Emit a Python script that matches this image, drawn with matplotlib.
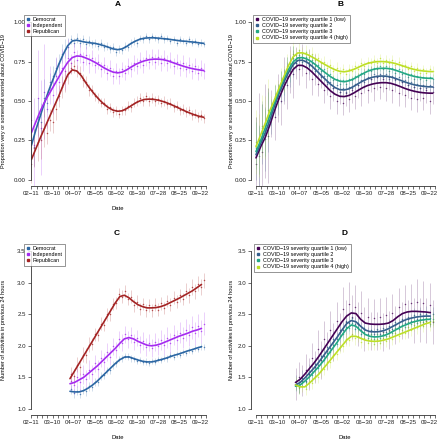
import numpy as np
import matplotlib
matplotlib.use('Agg')
import matplotlib.pyplot as plt
from matplotlib.lines import Line2D

plt.rcParams['font.family'] = ['Liberation Sans', 'DejaVu Sans']

# ---- data (days since 02-11) ----
date_labels = ['02\u221211', '03\u221210', '04\u221207', '05\u221205', '06\u221202',
               '06\u221230', '07\u221228', '08\u221225', '09\u221222']
month_starts = [19, 50, 80, 111, 141, 172, 203]   # Mar 1 .. Sep 1

party = ['Democrat', 'Independent', 'Republican']
party_col = ['#2B66A3', '#A52AF0', '#A32323']
quart = ['COVID\u221219 severity quartile 1 (low)', 'COVID\u221219 severity quartile 2',
         'COVID\u221219 severity quartile 3', 'COVID\u221219 severity quartile 4 (high)']
quart_col = [plt.cm.viridis(v) for v in (0.0, 0.3, 0.6, 0.9)]

# panel A: worry by party, obs every 4 days from day 0, trend every 6 days from day 0
A_dem_obs = [0.25, 0.21, 0.40, 0.37, 0.52, 0.49, 0.62, 0.66, 0.71, 0.74, 0.80, 0.83, 0.84, 0.89, 0.87, 0.90,
             0.87, 0.89, 0.86, 0.88, 0.86, 0.87, 0.85, 0.87, 0.84, 0.85, 0.83, 0.84, 0.81, 0.83, 0.82, 0.85,
             0.84, 0.87, 0.88, 0.87, 0.90, 0.89, 0.91, 0.89, 0.91, 0.90, 0.89, 0.91, 0.89, 0.90, 0.88, 0.89,
             0.87, 0.89, 0.88, 0.87, 0.89, 0.87, 0.88, 0.86, 0.87, 0.86]
A_ind_obs = [0.38, 0.22, 0.52, 0.33, 0.56, 0.45, 0.60, 0.54, 0.66, 0.62, 0.71, 0.69, 0.77, 0.74, 0.81, 0.76,
             0.80, 0.75, 0.79, 0.74, 0.77, 0.73, 0.75, 0.70, 0.73, 0.68, 0.71, 0.66, 0.69, 0.66, 0.70, 0.68,
             0.72, 0.70, 0.74, 0.72, 0.76, 0.73, 0.77, 0.75, 0.78, 0.75, 0.78, 0.74, 0.77, 0.74, 0.76, 0.72,
             0.75, 0.71, 0.74, 0.70, 0.73, 0.69, 0.72, 0.68, 0.71, 0.69]
A_rep_obs = [0.10, 0.20, 0.24, 0.25, 0.33, 0.30, 0.38, 0.37, 0.45, 0.53, 0.59, 0.63, 0.68, 0.71, 0.72, 0.69,
             0.68, 0.63, 0.62, 0.57, 0.57, 0.53, 0.52, 0.49, 0.49, 0.45, 0.46, 0.43, 0.44, 0.42, 0.44, 0.44,
             0.47, 0.46, 0.49, 0.50, 0.52, 0.50, 0.53, 0.50, 0.52, 0.50, 0.51, 0.49, 0.50, 0.48, 0.49, 0.46,
             0.47, 0.44, 0.45, 0.43, 0.44, 0.41, 0.42, 0.40, 0.41, 0.39]
A_dem_trend = [0.22, 0.32, 0.41, 0.50, 0.58, 0.655, 0.73, 0.795, 0.85, 0.88, 0.885, 0.878, 0.872, 0.868,
               0.865, 0.858, 0.85, 0.84, 0.83, 0.825, 0.83, 0.845, 0.865, 0.88, 0.892, 0.898, 0.90, 0.90,
               0.898, 0.895, 0.892, 0.888, 0.884, 0.88, 0.878, 0.875, 0.872, 0.868, 0.865]
A_ind_trend = [0.30, 0.37, 0.44, 0.50, 0.55, 0.60, 0.65, 0.70, 0.745, 0.775, 0.785, 0.783, 0.772, 0.76,
               0.745, 0.728, 0.71, 0.695, 0.683, 0.678, 0.683, 0.697, 0.715, 0.732, 0.745, 0.755, 0.762,
               0.765, 0.765, 0.762, 0.755, 0.745, 0.735, 0.725, 0.716, 0.708, 0.702, 0.697, 0.693]
A_rep_trend = [0.13, 0.20, 0.27, 0.335, 0.40, 0.465, 0.53, 0.60, 0.665, 0.697, 0.69, 0.66, 0.615, 0.575,
               0.54, 0.507, 0.48, 0.458, 0.442, 0.435, 0.438, 0.452, 0.47, 0.488, 0.502, 0.51, 0.512, 0.51,
               0.505, 0.497, 0.487, 0.475, 0.462, 0.448, 0.435, 0.423, 0.412, 0.403, 0.397]
A_err = [[0.12, 0.06, 0.03, 0.025, 0.025, 0.02, 0.02, 0.02],
         [0.30, 0.12, 0.06, 0.05, 0.05, 0.05, 0.05, 0.05],
         [0.12, 0.07, 0.04, 0.03, 0.03, 0.03, 0.03, 0.03]]

# panel B: worry by severity quartile
B_q1_obs = [0.10, 0.25, 0.18, 0.31, 0.28, 0.42, 0.40, 0.52, 0.50, 0.63, 0.60, 0.70, 0.67, 0.74, 0.70, 0.76,
            0.68, 0.73, 0.64, 0.70, 0.61, 0.66, 0.57, 0.62, 0.53, 0.58, 0.50, 0.56, 0.49, 0.55, 0.51, 0.57,
            0.53, 0.60, 0.55, 0.63, 0.57, 0.64, 0.58, 0.65, 0.59, 0.64, 0.58, 0.65, 0.57, 0.64, 0.55, 0.62,
            0.54, 0.60, 0.52, 0.59, 0.51, 0.58, 0.52, 0.57, 0.50, 0.56]
B_q2_obs = [0.20, 0.15, 0.30, 0.26, 0.38, 0.39, 0.50, 0.51, 0.59, 0.60, 0.68, 0.69, 0.75, 0.74, 0.77, 0.75,
            0.76, 0.72, 0.74, 0.69, 0.70, 0.65, 0.66, 0.61, 0.62, 0.58, 0.60, 0.56, 0.58, 0.56, 0.59, 0.58,
            0.61, 0.60, 0.63, 0.62, 0.65, 0.64, 0.67, 0.65, 0.67, 0.65, 0.67, 0.64, 0.66, 0.63, 0.65, 0.62,
            0.63, 0.60, 0.62, 0.59, 0.61, 0.58, 0.60, 0.58, 0.60, 0.59]
B_q3_obs = [0.22, 0.19, 0.33, 0.30, 0.41, 0.43, 0.52, 0.53, 0.61, 0.62, 0.70, 0.70, 0.77, 0.76, 0.79, 0.77,
            0.78, 0.75, 0.76, 0.72, 0.73, 0.69, 0.70, 0.66, 0.67, 0.63, 0.64, 0.61, 0.63, 0.61, 0.64, 0.63,
            0.66, 0.65, 0.68, 0.67, 0.70, 0.69, 0.71, 0.70, 0.72, 0.70, 0.72, 0.69, 0.71, 0.68, 0.70, 0.67,
            0.68, 0.65, 0.67, 0.64, 0.66, 0.64, 0.65, 0.63, 0.65, 0.64]
B_q4_obs = [0.24, 0.22, 0.34, 0.33, 0.44, 0.45, 0.53, 0.55, 0.63, 0.64, 0.72, 0.74, 0.80, 0.79, 0.82, 0.80,
            0.81, 0.78, 0.80, 0.76, 0.77, 0.74, 0.75, 0.71, 0.73, 0.69, 0.71, 0.68, 0.70, 0.67, 0.70, 0.69,
            0.72, 0.70, 0.74, 0.72, 0.75, 0.74, 0.76, 0.74, 0.77, 0.74, 0.76, 0.74, 0.76, 0.73, 0.75, 0.72,
            0.73, 0.70, 0.72, 0.69, 0.71, 0.68, 0.70, 0.68, 0.70, 0.69]
B_q1_trend = [0.14, 0.21, 0.27, 0.35, 0.44, 0.52, 0.59, 0.65, 0.70, 0.726, 0.725, 0.71, 0.685, 0.655, 0.625,
              0.595, 0.565, 0.543, 0.53, 0.528, 0.535, 0.55, 0.568, 0.585, 0.598, 0.607, 0.613, 0.616, 0.616,
              0.612, 0.603, 0.592, 0.58, 0.57, 0.562, 0.556, 0.552, 0.55, 0.549]
B_q2_trend = [0.16, 0.23, 0.30, 0.38, 0.47, 0.55, 0.62, 0.68, 0.73, 0.757, 0.758, 0.745, 0.722, 0.693, 0.663,
              0.635, 0.607, 0.585, 0.572, 0.57, 0.577, 0.592, 0.61, 0.627, 0.64, 0.65, 0.656, 0.658, 0.657,
              0.652, 0.643, 0.632, 0.621, 0.611, 0.603, 0.597, 0.593, 0.59, 0.589]
B_q3_trend = [0.18, 0.25, 0.33, 0.41, 0.49, 0.57, 0.64, 0.70, 0.748, 0.773, 0.775, 0.765, 0.748, 0.725, 0.70,
              0.677, 0.655, 0.637, 0.626, 0.622, 0.628, 0.64, 0.657, 0.673, 0.688, 0.698, 0.705, 0.707, 0.707,
              0.703, 0.695, 0.685, 0.674, 0.664, 0.656, 0.65, 0.646, 0.644, 0.643]
B_q4_trend = [0.21, 0.285, 0.36, 0.44, 0.51, 0.585, 0.655, 0.725, 0.78, 0.804, 0.805, 0.795, 0.78, 0.763,
              0.745, 0.728, 0.712, 0.698, 0.688, 0.685, 0.69, 0.70, 0.713, 0.727, 0.738, 0.745, 0.749, 0.75,
              0.748, 0.744, 0.737, 0.728, 0.718, 0.708, 0.70, 0.694, 0.69, 0.687, 0.686]
B_err = [[0.30, 0.15, 0.10, 0.08, 0.08, 0.08, 0.08, 0.08],
         [0.20, 0.10, 0.05, 0.04, 0.04, 0.035, 0.035, 0.035],
         [0.15, 0.08, 0.04, 0.035, 0.03, 0.03, 0.03, 0.03],
         [0.20, 0.08, 0.045, 0.035, 0.035, 0.03, 0.03, 0.03]]

# panel C: activities by party, obs every 4 days from day 52, trend every 6 days from day 51
C_dem_obs = [1.31, 1.25, 1.29, 1.24, 1.30, 1.28, 1.36, 1.35, 1.43, 1.43, 1.52, 1.53, 1.61, 1.62, 1.70,
             1.72, 1.79, 1.80, 1.84, 1.83, 1.80, 1.79, 1.76, 1.77, 1.74, 1.75, 1.73, 1.76, 1.75, 1.79,
             1.77, 1.81, 1.80, 1.85, 1.83, 1.87, 1.86, 1.90, 1.89, 1.93, 1.92, 1.96, 1.95, 1.99, 1.98]
C_ind_obs = [1.44, 1.38, 1.50, 1.42, 1.55, 1.47, 1.62, 1.55, 1.72, 1.63, 1.80, 1.74, 1.90, 1.83, 1.99,
             1.93, 2.10, 2.05, 2.18, 2.10, 2.17, 2.06, 2.12, 2.02, 2.08, 1.98, 2.05, 1.96, 2.06, 1.99,
             2.09, 2.02, 2.13, 2.05, 2.17, 2.09, 2.21, 2.13, 2.25, 2.17, 2.29, 2.20, 2.32, 2.23, 2.35]
C_rep_obs = [1.55, 1.52, 1.70, 1.66, 1.86, 1.85, 2.02, 2.03, 2.18, 2.17, 2.35, 2.33, 2.50, 2.50, 2.66,
             2.68, 2.82, 2.78, 2.86, 2.74, 2.78, 2.64, 2.70, 2.58, 2.66, 2.56, 2.64, 2.56, 2.65, 2.57,
             2.67, 2.60, 2.71, 2.65, 2.76, 2.70, 2.80, 2.74, 2.87, 2.80, 2.93, 2.86, 2.98, 2.93, 3.04]
C_dem_trend = [1.28, 1.27, 1.27, 1.29, 1.33, 1.38, 1.44, 1.51, 1.58, 1.65, 1.72, 1.78, 1.82, 1.825, 1.80,
               1.775, 1.755, 1.745, 1.745, 1.76, 1.78, 1.80, 1.825, 1.85, 1.87, 1.895, 1.92, 1.94, 1.965, 1.985]
C_ind_trend = [1.40, 1.42, 1.46, 1.50, 1.56, 1.62, 1.68, 1.75, 1.82, 1.89, 1.96, 2.04, 2.11, 2.13, 2.11,
               2.07, 2.04, 2.01, 2.00, 2.01, 2.03, 2.06, 2.09, 2.12, 2.15, 2.175, 2.20, 2.23, 2.25, 2.275]
C_rep_trend = [1.48, 1.60, 1.72, 1.84, 1.96, 2.08, 2.20, 2.32, 2.44, 2.56, 2.68, 2.78, 2.80, 2.76, 2.70,
               2.65, 2.62, 2.60, 2.60, 2.605, 2.62, 2.645, 2.68, 2.715, 2.75, 2.79, 2.83, 2.87, 2.92, 2.97]
C_err = [[0, 0, 0.07, 0.06, 0.05, 0.05, 0.05, 0.05],
         [0, 0, 0.15, 0.14, 0.13, 0.14, 0.16, 0.18],
         [0, 0, 0.12, 0.10, 0.10, 0.10, 0.10, 0.12]]

# panel D: activities by severity quartile
D_q1_obs = [1.40, 1.50, 1.45, 1.62, 1.55, 1.80, 1.66, 1.95, 1.78, 2.10, 1.92, 2.25, 2.06, 2.40, 2.22,
            2.58, 2.38, 2.66, 2.45, 2.62, 2.35, 2.52, 2.27, 2.45, 2.24, 2.44, 2.23, 2.45, 2.22, 2.48,
            2.25, 2.52, 2.33, 2.62, 2.40, 2.66, 2.42, 2.68, 2.40, 2.70, 2.41, 2.68, 2.40, 2.65, 2.38]
D_q2_obs = [1.42, 1.38, 1.49, 1.45, 1.59, 1.57, 1.71, 1.70, 1.84, 1.84, 1.98, 1.97, 2.11, 2.10, 2.25,
            2.25, 2.39, 2.36, 2.44, 2.34, 2.36, 2.25, 2.28, 2.19, 2.25, 2.18, 2.26, 2.19, 2.28, 2.22,
            2.32, 2.26, 2.37, 2.32, 2.42, 2.36, 2.45, 2.40, 2.48, 2.42, 2.50, 2.43, 2.51, 2.44, 2.50]
D_q3_obs = [1.38, 1.34, 1.44, 1.42, 1.53, 1.53, 1.64, 1.65, 1.75, 1.77, 1.89, 1.90, 2.02, 2.03, 2.16,
            2.18, 2.29, 2.28, 2.36, 2.27, 2.30, 2.19, 2.22, 2.13, 2.18, 2.11, 2.18, 2.12, 2.19, 2.16,
            2.23, 2.21, 2.28, 2.26, 2.33, 2.30, 2.37, 2.34, 2.40, 2.36, 2.42, 2.38, 2.44, 2.39, 2.43]
D_q4_obs = [1.40, 1.33, 1.37, 1.32, 1.43, 1.41, 1.52, 1.51, 1.61, 1.63, 1.74, 1.75, 1.86, 1.87, 1.98,
            2.00, 2.10, 2.09, 2.18, 2.12, 2.16, 2.06, 2.12, 2.04, 2.10, 2.03, 2.10, 2.05, 2.12, 2.08,
            2.16, 2.11, 2.20, 2.16, 2.25, 2.20, 2.29, 2.25, 2.33, 2.29, 2.37, 2.32, 2.39, 2.34, 2.40]
D_q1_trend = [1.42, 1.47, 1.55, 1.64, 1.73, 1.83, 1.94, 2.05, 2.16, 2.27, 2.38, 2.47, 2.52, 2.51, 2.42,
              2.36, 2.345, 2.34, 2.34, 2.345, 2.36, 2.40, 2.46, 2.51, 2.535, 2.545, 2.545, 2.54, 2.535, 2.525]
D_q2_trend = [1.38, 1.42, 1.49, 1.57, 1.65, 1.74, 1.84, 1.94, 2.04, 2.14, 2.25, 2.35, 2.40, 2.38, 2.31,
              2.25, 2.225, 2.22, 2.225, 2.24, 2.27, 2.31, 2.35, 2.39, 2.42, 2.44, 2.455, 2.465, 2.47, 2.47]
D_q3_trend = [1.36, 1.38, 1.44, 1.51, 1.59, 1.67, 1.76, 1.86, 1.96, 2.06, 2.17, 2.27, 2.33, 2.31, 2.24,
              2.18, 2.15, 2.14, 2.145, 2.16, 2.19, 2.23, 2.27, 2.31, 2.34, 2.37, 2.39, 2.405, 2.415, 2.42]
D_q4_trend = [1.38, 1.35, 1.35, 1.41, 1.48, 1.55, 1.64, 1.73, 1.82, 1.91, 2.00, 2.09, 2.15, 2.15, 2.12,
              2.09, 2.075, 2.07, 2.075, 2.09, 2.11, 2.14, 2.17, 2.20, 2.23, 2.26, 2.29, 2.32, 2.35, 2.37]
D_err = [[0, 0, 0.25, 0.30, 0.35, 0.30, 0.30, 0.35],
         [0, 0, 0.12, 0.12, 0.12, 0.10, 0.10, 0.12],
         [0, 0, 0.10, 0.10, 0.10, 0.09, 0.09, 0.10],
         [0, 0, 0.10, 0.10, 0.10, 0.10, 0.10, 0.10]]

# ---- figure ----
W, H = 437, 440
fig = plt.figure(figsize=(W / 100, H / 100), dpi=100)
axcol = '#333333'


def px_axes(l, r, t, b):
    return fig.add_axes([l / W, 1 - b / H, (r - l) / W, (b - t) / H])


def style(ax, xlim, ylim, ybounds, yticks, ylabs):
    ax.set_xlim(*xlim)
    ax.set_ylim(*ylim)
    ax.patch.set_visible(False)
    for s in ['top', 'right']:
        ax.spines[s].set_visible(False)
    for s in ['left', 'bottom']:
        ax.spines[s].set_linewidth(0.6)
        ax.spines[s].set_color(axcol)
    ax.spines['left'].set_bounds(*ybounds)
    ax.spines['bottom'].set_bounds(0, 231)
    xt = np.arange(0, 232, 7)
    ax.set_xticks(xt, [date_labels[i // 4] if i % 4 == 0 else '' for i in range(len(xt))])
    ax.set_yticks(yticks, ylabs)
    ax.tick_params(length=2.0, width=0.5, color=axcol, labelsize=4.4, pad=1.5, labelcolor='#222222')


def panel(ax, obs_list, trend_list, err_list, obs_start, trend_start, cols, labels, legend_xy):
    for obs, err_m, c in zip(obs_list, err_list, cols):
        obs = np.array(obs)
        days = obs_start + 4 * np.arange(len(obs))
        err = np.array(err_m)[np.searchsorted(month_starts, days, side='right')]
        ax.vlines(days, obs - err, obs + err, color=c, alpha=0.22, lw=0.7)
        ax.scatter(days, obs, s=1.2, color=c, alpha=0.75, lw=0)
    for tr, c in zip(trend_list, cols):
        tdays = trend_start + 6 * np.arange(len(tr))
        ax.plot(tdays, tr, color=c, lw=1.2, solid_capstyle='round')
    handles = [Line2D([], [], ls='none', marker='s', ms=2.0, color=c) for c in cols]
    leg = ax.legend(handles, labels, loc='upper left',
                    bbox_to_anchor=(legend_xy[0] / W, 1 - legend_xy[1] / H),
                    bbox_transform=fig.transFigure, fontsize=3.9, frameon=True, fancybox=False,
                    borderpad=0.4, labelspacing=0.2, handlelength=0.6, handletextpad=0.6,
                    borderaxespad=0)
    leg.get_frame().set_edgecolor('#444444')
    leg.get_frame().set_linewidth(0.5)
    leg.set_zorder(10)


# A
axA = px_axes(30.7, 207.5, 15.7, 186.3)
style(axA, (-1, 233), (-0.04, 1.04), (0, 1), [0, 0.25, 0.5, 0.75, 1.0], ['0.00', '0.25', '0.50', '0.75', '1.00'])
panel(axA, [A_dem_obs, A_ind_obs, A_rep_obs], [A_dem_trend, A_ind_trend, A_rep_trend], A_err,
      0, 0, party_col, party, (24, 15))

# B
axB = px_axes(251, 436.5, 15.7, 186.3)
style(axB, (-6.45, 233), (-0.04, 1.04), (0, 1), [0, 0.25, 0.5, 0.75, 1.0], ['0.00', '0.25', '0.50', '0.75', '1.00'])
panel(axB, [B_q1_obs, B_q2_obs, B_q3_obs, B_q4_obs], [B_q1_trend, B_q2_trend, B_q3_trend, B_q4_trend], B_err,
      0, 0, quart_col, quart, (253, 15))

# C
axC = px_axes(30.7, 207.5, 244.7, 415.3)
style(axC, (-1, 233), (0.9, 3.6), (1, 3.5), [1, 1.5, 2, 2.5, 3, 3.5], ['1.0', '1.5', '2.0', '2.5', '3.0', '3.5'])
panel(axC, [C_dem_obs, C_ind_obs, C_rep_obs], [C_dem_trend, C_ind_trend, C_rep_trend], C_err,
      52, 51, party_col, party, (24, 244))

# D
axD = px_axes(251, 436.5, 244.7, 415.3)
style(axD, (-6.45, 233), (0.9, 3.6), (1, 3.5), [1, 1.5, 2, 2.5, 3, 3.5], ['1.0', '1.5', '2.0', '2.5', '3.0', '3.5'])
panel(axD, [D_q1_obs, D_q2_obs, D_q3_obs, D_q4_obs], [D_q1_trend, D_q2_trend, D_q3_trend, D_q4_trend], D_err,
      52, 51, quart_col, quart, (254, 244))


def ftext(x, y, s, **kw):
    fig.text(x / W, 1 - y / H, s, ha='center', va='center', **kw)


for x, y, s in [(118, 5, 'A'), (341, 5, 'B'), (117, 233, 'C'), (345, 233, 'D')]:
    ftext(x, y, s, fontsize=6, fontweight='bold')
for x, y in [(118, 208), (118, 437), (345, 437)]:
    ftext(x, y, 'Date', fontsize=4.2)
yl1 = 'Proportion very or somewhat worried about COVID\u221219'
yl2 = 'Number of activities in previous 24 hours'
ftext(4, 101, yl1, fontsize=4.0, rotation=90)
ftext(232, 101, yl1, fontsize=4.0, rotation=90)
ftext(4, 330, yl2, fontsize=4.0, rotation=90)
ftext(232, 330, yl2, fontsize=4.0, rotation=90)

fig.savefig('out.png', dpi=100)
